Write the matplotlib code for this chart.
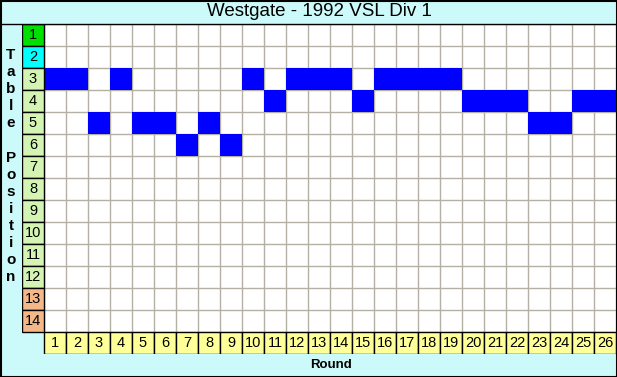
import numpy as np
import matplotlib.pyplot as plt
from matplotlib.lines import Line2D

# chart data
rounds = list(range(1, 27))
positions = [3, 3, 5, 3, 5, 5, 6, 5, 6, 3, 4, 3, 3, 3, 4, 3, 3, 3, 3, 4, 4, 4, 5, 5, 4, 4]
table_rows = list(range(1, 15))
row_colors = ['#00e000', '#00ffff'] + ['#d4f4b4'] * 10 + ['#f4b888'] * 2
title = 'Westgate - 1992 VSL Div 1'

W, H = 617, 377
bg = '#ccfafa'
grid_col = '#b4b0a4'


def fx(px):
    return px / W


def fy(py):
    return 1 - py / H


fig = plt.figure(figsize=(W / 100, H / 100), dpi=100)
fig.patch.set_facecolor(bg)

# axes spans label column (x=0) and round row (y=15)
ax = fig.add_axes([fx(22), fy(354), fx(616) - fx(22), fy(24) - fy(354)])
ax.set_xlim(-0.5, 26.5)
ax.set_ylim(15.5, 0.5)
ax.set_axis_off()

# white board
ax.bar(13.5, 14, bottom=0.5, width=26, color='white', zorder=0)
ax.vlines(np.arange(0.5, 27), 0.5, 14.5, color=grid_col, lw=1, zorder=1)
ax.hlines(np.arange(0.5, 15), 0.5, 26.5, color=grid_col, lw=1, zorder=1)

# team position per round
ax.bar(rounds, 1, bottom=np.array(positions) - 0.5, width=1, color='#0000ff',
       zorder=2, linewidth=0)

# table position labels
ax.bar([0] * len(table_rows), 1, bottom=np.array(table_rows) - 0.5, width=1,
       color=row_colors, edgecolor='black', linewidth=1, zorder=3)
for r in table_rows:
    ax.text(0, r, str(r), ha='center', va='center', fontsize=10.5,
            family='Liberation Sans', zorder=4)

# round labels
ax.bar(rounds, 1, bottom=14.5, width=1, color='#ffff99', edgecolor='black',
       linewidth=1, zorder=3)
for r in rounds:
    ax.text(r, 15, str(r), ha='center', va='center', fontsize=10.5,
            family='Liberation Sans', zorder=4)

# title and axis labels
fig.text(fx(319), fy(12), title, ha='center', va='center', fontsize=13.5,
         family='Liberation Sans')
fig.text(fx(331), fy(365), 'Round', ha='center', va='center', fontsize=9.5,
         fontweight='bold', family='Liberation Sans')
for i, ch in enumerate('Table Position'):
    if ch != ' ':
        fig.text(fx(11), fy(55 + i * 17.1), ch, ha='center', va='center',
                 fontsize=11, fontweight='bold', family='Liberation Sans')

# frame lines
fig.add_artist(Line2D([0, 1], [fy(24), fy(24)], color='black', lw=1))
fig.add_artist(Line2D([fx(0.5), fx(616.5), fx(616.5), fx(0.5), fx(0.5)],
                      [fy(0.5), fy(0.5), fy(376.5), fy(376.5), fy(0.5)],
                      color='black', lw=1.5))

fig.savefig('out.png', dpi=100, facecolor=bg)
